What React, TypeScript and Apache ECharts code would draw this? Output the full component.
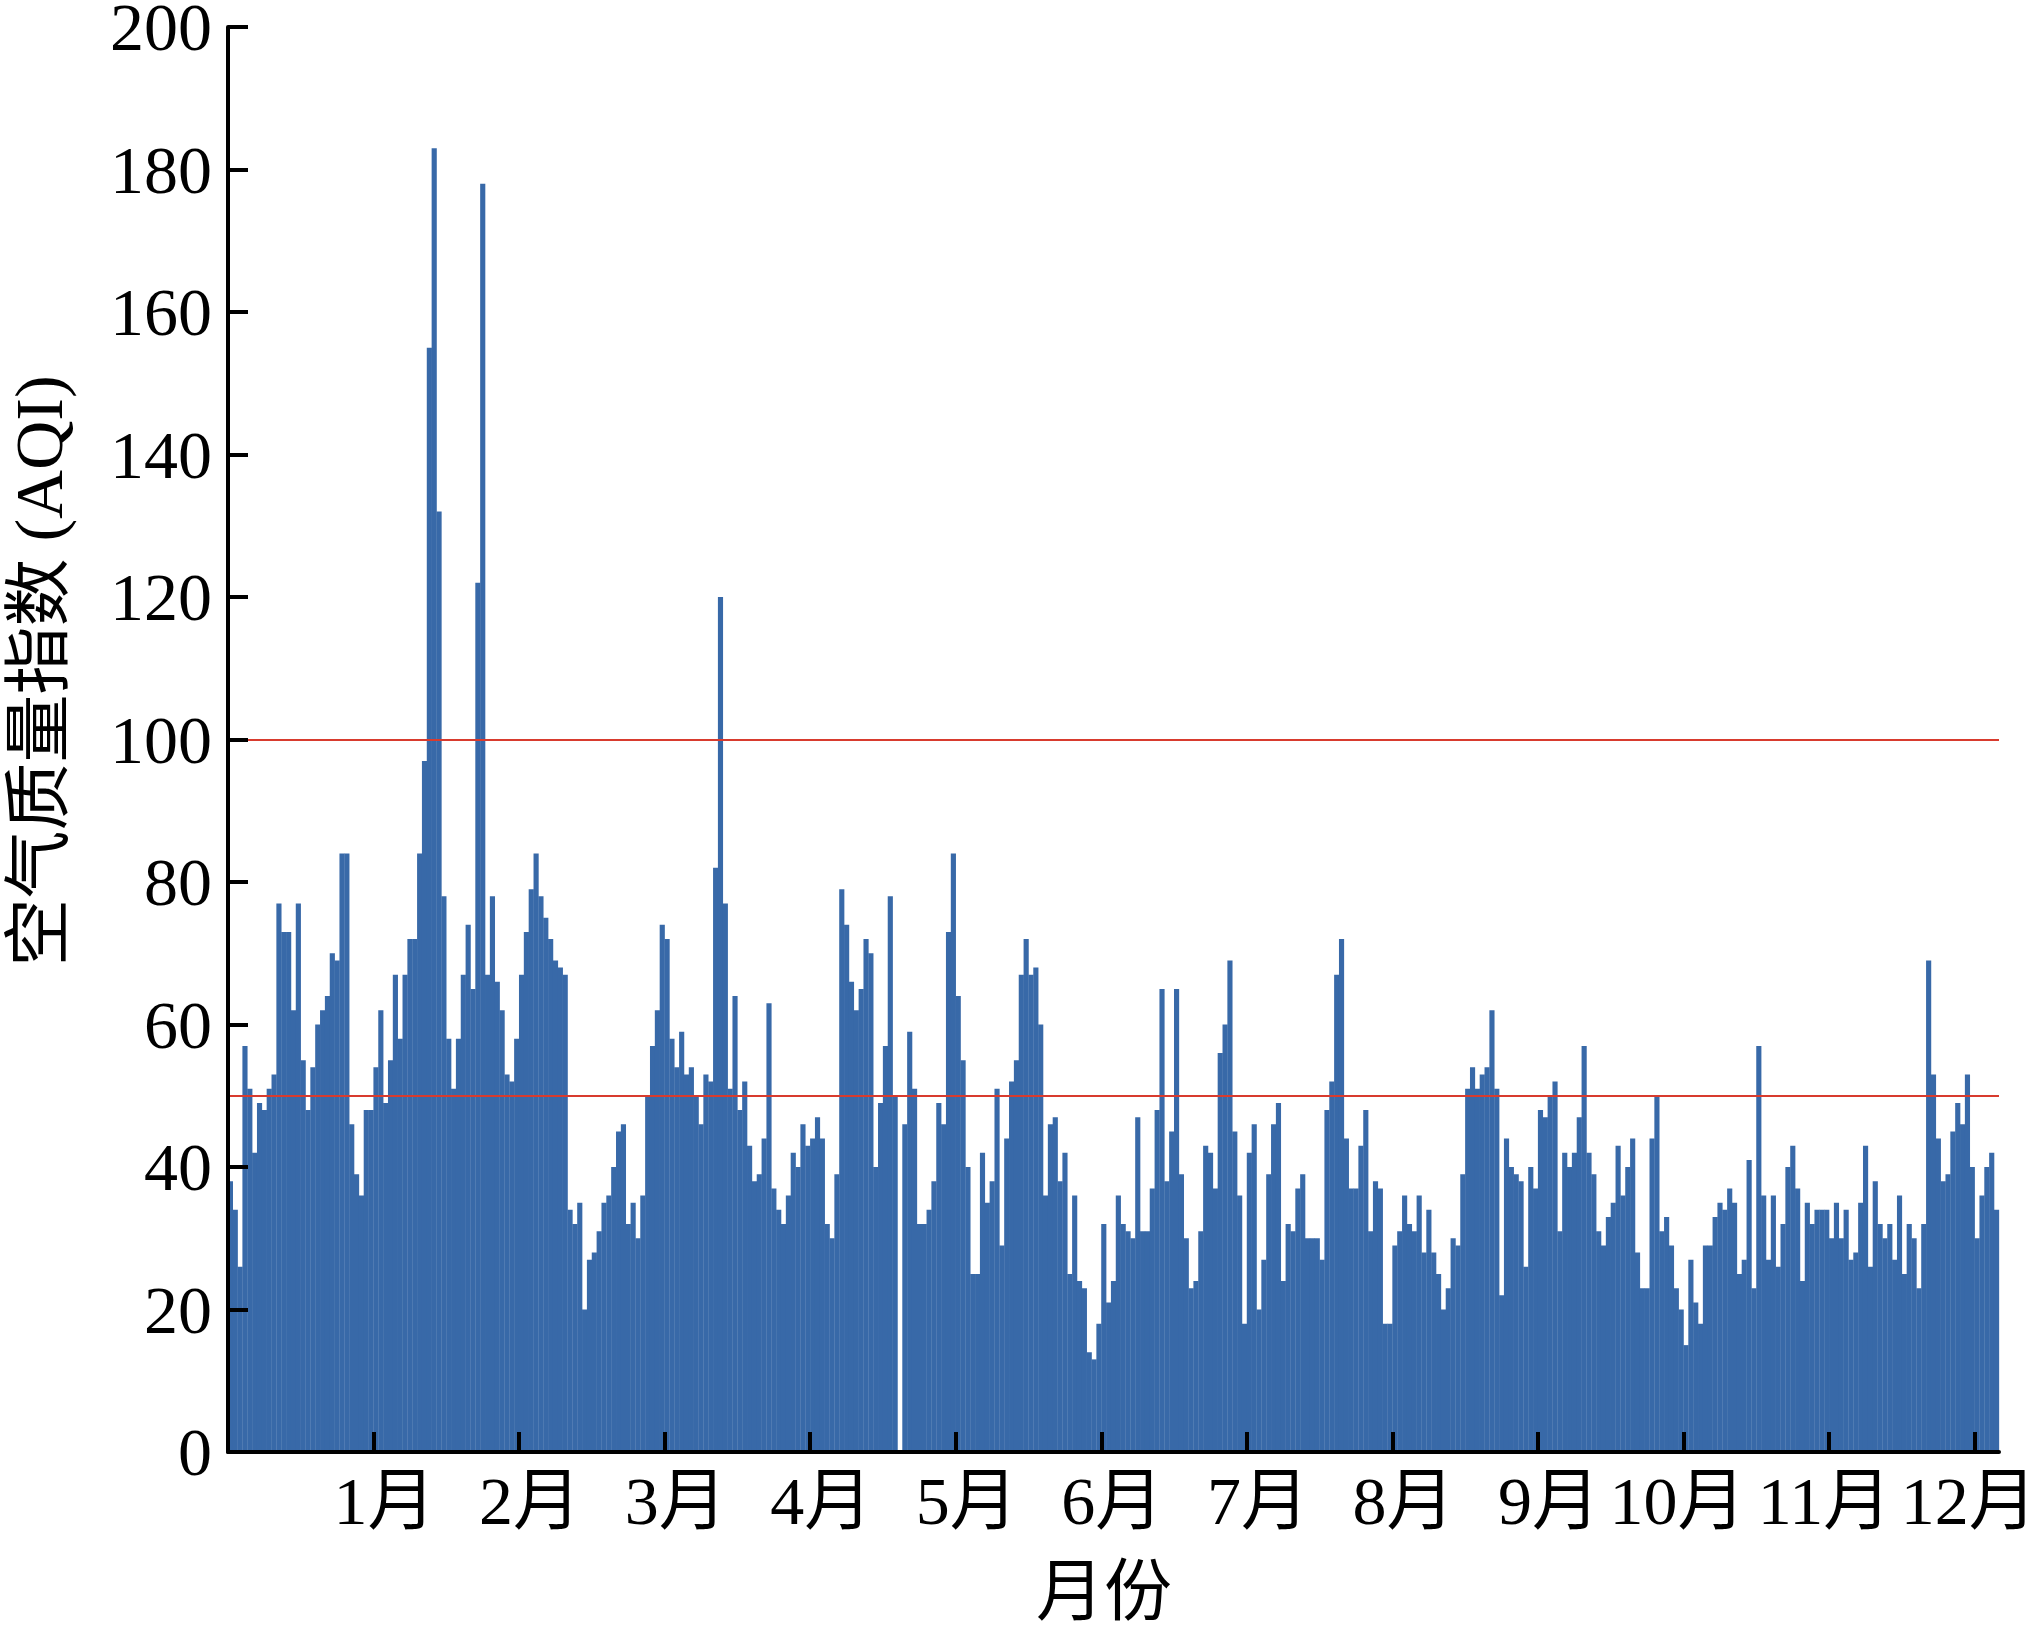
import { useEffect, useRef } from "react";
import * as echarts from "echarts";

// daily AQI in runs of days (day index from 0)
const aqiDays000to040 = [
  38, 34, 26, 57, 51, 42, 49, 48, 51, 53, 77, 73, 73, 62, 77, 55, 48, 54, 60, 62,
  64, 70, 69, 84, 84, 46, 39, 36, 48, 48, 54, 62, 49, 55, 67, 58, 67, 72, 72, 84, 97,
];
const aqiDays041to081 = [
  155, 183, 132, 78, 58, 51, 58, 67, 74, 65, 122, 178, 67, 78, 66, 62, 53, 52, 58, 67,
  73, 79, 84, 78, 75, 72, 69, 68, 67, 34, 32, 35, 20, 27, 28, 31, 35, 36, 40, 45, 46,
];
const aqiDays082to129 = [
  32, 35, 30, 36, 50, 57, 62, 74, 72, 58, 54, 59, 53, 54, 50, 46, 53, 52, 82, 120,
  77, 51, 64, 48, 52, 43, 38, 39, 44, 63, 37, 34, 32, 36, 42, 40, 46, 43, 44, 47,
  44, 32, 30, 39, 79, 74, 66, 62,
];
const aqiDays130to177 = [
  65, 72, 70, 40, 49, 57, 78, 50, 0, 46, 59, 51, 32, 32, 34, 38, 49, 46, 73, 84,
  64, 55, 40, 25, 25, 42, 35, 38, 51, 29, 44, 52, 55, 67, 72, 67, 68, 60, 36, 46,
  47, 38, 42, 25, 36, 24, 23, 14,
];
const aqiDays178to225 = [
  13, 18, 32, 21, 24, 36, 32, 31, 30, 47, 31, 31, 37, 48, 65, 38, 45, 65, 39, 30,
  23, 24, 31, 43, 42, 37, 56, 60, 69, 45, 36, 18, 42, 46, 20, 27, 39, 46, 49, 24,
  32, 31, 37, 39, 30, 30, 30, 27,
];
const aqiDays226to273 = [
  48, 52, 67, 72, 44, 37, 37, 43, 48, 31, 38, 37, 18, 18, 29, 31, 36, 32, 31, 36,
  28, 34, 28, 25, 20, 23, 30, 29, 39, 51, 54, 51, 53, 54, 62, 51, 22, 44, 40, 39,
  38, 26, 40, 37, 48, 47, 50, 52,
];
const aqiDays274to321 = [
  31, 42, 40, 42, 47, 57, 42, 39, 31, 29, 33, 35, 43, 36, 40, 44, 28, 23, 23, 44,
  50, 31, 33, 29, 23, 20, 15, 27, 21, 18, 29, 29, 33, 35, 34, 37, 35, 25, 27, 41,
  23, 57, 36, 27, 36, 26, 32, 40,
];
const aqiDays322to364 = [
  43, 37, 24, 35, 32, 34, 34, 34, 30, 35, 30, 34, 27, 28, 35, 43, 26, 38, 32, 30,
  32, 27, 36, 25, 32, 30, 23, 32, 69, 53, 44, 38, 39, 45, 49, 46, 53, 40, 30, 36,
  40, 42, 34,
];

const aqiValues = [
  ...aqiDays000to040,
  ...aqiDays041to081,
  ...aqiDays082to129,
  ...aqiDays130to177,
  ...aqiDays178to225,
  ...aqiDays226to273,
  ...aqiDays274to321,
  ...aqiDays322to364,
];

const monthTicks = [30, 60, 90, 120, 150, 180, 210, 240, 270, 300, 330, 360];
const monthLabels = ["1月", "2月", "3月", "4月", "5月", "6月", "7月", "8月", "9月", "10月", "11月", "12月"];
const thresholdLines = [50, 100];

const FONT = "'Liberation Serif', 'Times New Roman', 'Noto Sans CJK SC', serif";

export default function App() {
  const chartRef = useRef<HTMLDivElement>(null);

  useEffect(() => {
    const chart = echarts.init(chartRef.current, null, { renderer: "svg" });

    const width = 2025;
    const gridLeft = 228;
    const gridRight = 26;
    const barW = (width - gridLeft - gridRight) / aqiValues.length;

    const options = {
      animation: false,
      backgroundColor: "#fff",
      grid: {
        left: gridLeft,
        right: gridRight,
        top: 27,
        bottom: 179,
        outerBoundsMode: "none",
        containLabel: false,
      },
      xAxis: {
        type: "value",
        min: 0,
        max: aqiValues.length,
        z: 5,
        splitLine: { show: false },
        axisLine: { show: true, onZero: false, lineStyle: { color: "#000", width: 4 } },
        axisTick: {
          show: true,
          inside: true,
          length: 20,
          customValues: monthTicks,
          lineStyle: { color: "#000", width: 4 },
        },
        axisLabel: {
          customValues: monthTicks,
          margin: 15,
          formatter: (v: number) => {
            const idx = Math.round(v / 30) - 1;
            if (v % 30 !== 0 || idx < 0 || idx >= monthLabels.length) return "";
            return `{m|${monthLabels[idx]}}`;
          },
          rich: {
            m: {
              width: 124,
              align: "right",
              fontSize: 68,
              fontFamily: FONT,
              color: "#000",
            },
          },
        },
      },
      yAxis: {
        type: "value",
        min: 0,
        max: 200,
        interval: 20,
        z: 5,
        splitLine: { show: false },
        axisLine: { show: true, lineStyle: { color: "#000", width: 4 } },
        axisTick: { show: true, inside: true, length: 20, lineStyle: { color: "#000", width: 4 } },
        axisLabel: { margin: 16, fontSize: 68, fontFamily: FONT, color: "#000" },
      },
      graphic: [
        {
          type: "text",
          x: 39,
          y: 671,
          rotation: Math.PI / 2,
          style: {
            text: "空气质量指数 (AQI)",
            fontSize: 68,
            fontFamily: FONT,
            fill: "#000",
            align: "center",
            verticalAlign: "middle",
          },
        },
        {
          type: "text",
          x: 1104,
          y: 1592,
          style: {
            text: "月份",
            fontSize: 68,
            fontFamily: FONT,
            fill: "#000",
            align: "center",
            verticalAlign: "middle",
          },
        },
      ],
      series: [
        {
          type: "bar",
          barWidth: barW + 0.3,
          itemStyle: { color: "#3869a8" },
          data: aqiValues.map((v, i) => [i + 0.5, v]),
          markLine: {
            silent: true,
            symbol: "none",
            label: { show: false },
            lineStyle: { color: "#d83b2e", width: 1.8, type: "solid" },
            data: thresholdLines.map((y) => ({ yAxis: y })),
          },
        },
      ],
    };

    chart.setOption(options);

    return () => {
      chart.dispose();
    };
  }, []);

  return (
    <div
      ref={chartRef}
      style={{ position: "absolute", left: 0, top: 0, width: "2025px", height: "1631px" }}
    />
  );
}
